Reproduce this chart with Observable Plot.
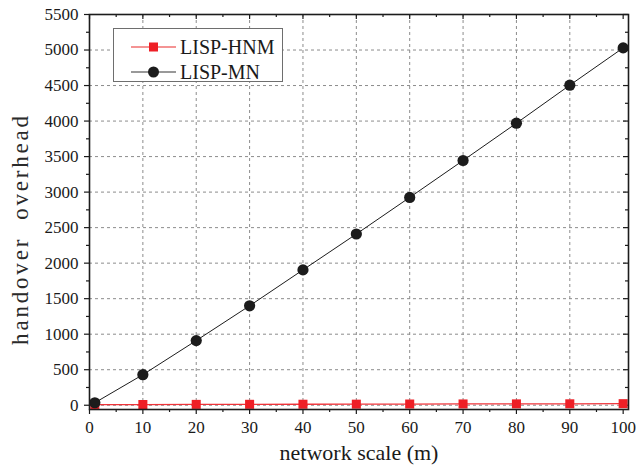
<!DOCTYPE html>
<html>
<head>
<meta charset="utf-8">
<script src="https://cdn.jsdelivr.net/npm/d3@7"></script>
<script src="https://cdn.jsdelivr.net/npm/@observablehq/plot@0.6"></script>
<style>
  body { margin: 0; background: #fff; }
  #wrap { position: relative; width: 638px; height: 472px; font-family: "Liberation Serif", "Times New Roman", serif; }
  #wrap svg, #wrap svg text { font-family: "Liberation Serif", "Times New Roman", serif !important; }
  #legend { position: absolute; left: 113px; top: 28px; width: 170px; height: 54px; border: 1px solid #6e6e6e; background: #fff; box-sizing: border-box; }
  .row { position: absolute; left: 0; height: 24px; display: flex; align-items: center; }
  .row svg { margin-left: 17px; }
  .row span { margin-left: 4px; font-size: 20px; color: #1a1a1a; line-height: 24px; }
</style>
</head>
<body>
<div id="wrap"></div>
<script>
// ---- data ----
const networkScale = [1, 10, 20, 30, 40, 50, 60, 70, 80, 90, 100];
const lispHNM = [8, 10, 12, 13, 14, 15, 17, 18, 19, 20, 22];
const lispMN = [35, 430, 910, 1400, 1905, 2410, 2925, 3445, 3970, 4505, 5030];
const seriesNames = ["LISP-HNM", "LISP-MN"];
const xTicks = [0, 10, 20, 30, 40, 50, 60, 70, 80, 90, 100];
const xMinor = [5, 15, 25, 35, 45, 55, 65, 75, 85, 95];
const yTicks = [0, 500, 1000, 1500, 2000, 2500, 3000, 3500, 4000, 4500, 5000, 5500];
const yMinor = [250, 750, 1250, 1750, 2250, 2750, 3250, 3750, 4250, 4750, 5250];

const hnmRows = networkScale.map((x, i) => ({x, y: lispHNM[i]}));
const mnRows = networkScale.map((x, i) => ({x, y: lispMN[i]}));

const red = "#ee1f26";
const black = "#1c1c1c";
const serif = '"Liberation Serif", "Times New Roman", serif';
const gridStyle = {stroke: "#8c8c8c", strokeOpacity: 1, strokeWidth: 1, strokeDasharray: "3,3"};

const W = 638, H = 472, mL = 89, mR = 10, mT = 14, mB = 63;
const fw = W - mL - mR, fh = H - mT - mB;

const chart = Plot.plot({
  width: W, height: H,
  marginLeft: mL, marginRight: mR, marginTop: mT, marginBottom: mB,
  style: {fontFamily: serif, fontSize: "17px", color: "#1a1a1a", background: "#fff"},
  x: {domain: [0, 101]},
  y: {domain: [-60, 5500]},
  marks: [
    Plot.gridX(xTicks.filter(d => d > 0 && d < 100), gridStyle),
    Plot.gridY(yTicks.filter(d => d < 5500), gridStyle),
    // minor ticks
    Plot.axisX(xMinor, {anchor: "bottom", tickSize: 3, tickFormat: () => "", label: null, strokeWidth: 1.2}),
    Plot.axisY(yMinor, {anchor: "left", tickSize: 3, tickFormat: () => "", label: null, strokeWidth: 1.2}),
    // major ticks + labels
    Plot.axisX(xTicks, {anchor: "bottom", tickSize: 5, tickPadding: 6, strokeWidth: 1.2, tickFormat: d => String(d),
      fontFamily: serif, fontSize: 17,
      label: "network scale (m)", labelAnchor: "center", labelArrow: "none", labelOffset: 50}),
    Plot.axisY(yTicks, {anchor: "left", tickSize: 5, tickPadding: 6, strokeWidth: 1.2, tickFormat: d => String(d),
      fontFamily: serif, fontSize: 17,
      label: "handover  overhead", labelAnchor: "center", labelArrow: "none", labelOffset: 80}),
    // top / right inward ticks
    Plot.tickX(xTicks, {x: d => d, insetBottom: fh - 5, stroke: black, strokeWidth: 1.2}),
    Plot.tickX(xMinor, {x: d => d, insetBottom: fh - 3, stroke: black, strokeWidth: 1.2}),
    Plot.tickY(yTicks, {y: d => d, insetLeft: fw - 5, stroke: black, strokeWidth: 1.2}),
    Plot.tickY(yMinor, {y: d => d, insetLeft: fw - 3, stroke: black, strokeWidth: 1.2}),
    // series
    Plot.line(hnmRows, {x: "x", y: "y", stroke: red, strokeWidth: 1.3, strokeOpacity: 0.9}),
    Plot.dot(hnmRows, {x: "x", y: "y", symbol: "square", r: 5.1, fill: red, stroke: "none"}),
    Plot.line(mnRows, {x: "x", y: "y", stroke: black, strokeWidth: 1}),
    Plot.dot(mnRows, {x: "x", y: "y", symbol: "circle", r: 5.6, fill: black, stroke: "none"}),
    Plot.frame({stroke: black, strokeWidth: 1.6})
  ]
});

// style axis titles
chart.querySelectorAll('[aria-label="x-axis label"] text').forEach(t => {
  t.style.fontSize = "22px";
});
chart.querySelectorAll('[aria-label="y-axis label"]').forEach(g => {
  const prev = g.getAttribute("transform") || "";
  g.setAttribute("transform", "translate(2,17) " + prev);
  g.querySelectorAll("text").forEach(t => {
    t.style.fontSize = "23px";
    t.style.fontWeight = "normal";
    t.style.letterSpacing = "2.8px";
    t.style.whiteSpace = "pre";
    t.style.fill = "#2a2a2a";
  });
});

const wrap = document.getElementById("wrap");
wrap.appendChild(chart);

// legend
const legend = document.createElement("div");
legend.id = "legend";
const specs = [
  {name: seriesNames[0], color: red, lineColor: "#f07070", shape: "square", top: 6},
  {name: seriesNames[1], color: black, lineColor: "#777", shape: "circle", top: 31}
];
specs.forEach(s => {
  const row = document.createElement("div");
  row.className = "row";
  row.style.top = s.top + "px";
  const marker = s.shape === "square"
    ? `<rect x="18" y="7.5" width="9" height="9" fill="${s.color}"/>`
    : `<circle cx="22.5" cy="12" r="5.5" fill="${s.color}"/>`;
  row.innerHTML = `<svg width="45" height="24"><line x1="0" x2="45" y1="12" y2="12" stroke="${s.lineColor}" stroke-width="1.6"/>${marker}</svg><span>${s.name}</span>`;
  legend.appendChild(row);
});
wrap.appendChild(legend);
</script>
</body>
</html>
